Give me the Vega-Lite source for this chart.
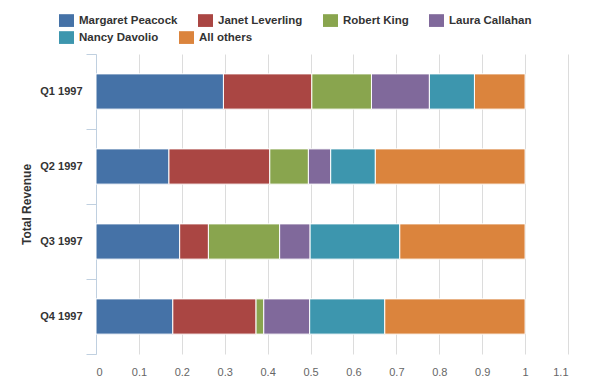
{
  "$schema": "https://vega.github.io/schema/vega-lite/v6.json",
  "width": 472,
  "height": 300,
  "autosize": {"type": "none"},
  "padding": {"left": 96, "top": 54, "right": 28, "bottom": 31},
  "background": "white",
  "data": {
    "values": [
      {"quarter": "Q1 1997", "employee": "Margaret Peacock", "ord": 1, "value": 0.297},
      {"quarter": "Q1 1997", "employee": "Janet Leverling", "ord": 2, "value": 0.206},
      {"quarter": "Q1 1997", "employee": "Robert King", "ord": 3, "value": 0.139},
      {"quarter": "Q1 1997", "employee": "Laura Callahan", "ord": 4, "value": 0.135},
      {"quarter": "Q1 1997", "employee": "Nancy Davolio", "ord": 5, "value": 0.105},
      {"quarter": "Q1 1997", "employee": "All others", "ord": 6, "value": 0.118},
      {"quarter": "Q2 1997", "employee": "Margaret Peacock", "ord": 1, "value": 0.170},
      {"quarter": "Q2 1997", "employee": "Janet Leverling", "ord": 2, "value": 0.235},
      {"quarter": "Q2 1997", "employee": "Robert King", "ord": 3, "value": 0.090},
      {"quarter": "Q2 1997", "employee": "Laura Callahan", "ord": 4, "value": 0.052},
      {"quarter": "Q2 1997", "employee": "Nancy Davolio", "ord": 5, "value": 0.104},
      {"quarter": "Q2 1997", "employee": "All others", "ord": 6, "value": 0.349},
      {"quarter": "Q3 1997", "employee": "Margaret Peacock", "ord": 1, "value": 0.195},
      {"quarter": "Q3 1997", "employee": "Janet Leverling", "ord": 2, "value": 0.067},
      {"quarter": "Q3 1997", "employee": "Robert King", "ord": 3, "value": 0.166},
      {"quarter": "Q3 1997", "employee": "Laura Callahan", "ord": 4, "value": 0.071},
      {"quarter": "Q3 1997", "employee": "Nancy Davolio", "ord": 5, "value": 0.209},
      {"quarter": "Q3 1997", "employee": "All others", "ord": 6, "value": 0.292},
      {"quarter": "Q4 1997", "employee": "Margaret Peacock", "ord": 1, "value": 0.179},
      {"quarter": "Q4 1997", "employee": "Janet Leverling", "ord": 2, "value": 0.194},
      {"quarter": "Q4 1997", "employee": "Robert King", "ord": 3, "value": 0.018},
      {"quarter": "Q4 1997", "employee": "Laura Callahan", "ord": 4, "value": 0.107},
      {"quarter": "Q4 1997", "employee": "Nancy Davolio", "ord": 5, "value": 0.175},
      {"quarter": "Q4 1997", "employee": "All others", "ord": 6, "value": 0.327}
    ]
  },
  "transform": [
    {"stack": "value", "groupby": ["quarter"], "sort": [{"field": "ord", "order": "ascending"}], "as": ["v0", "v1"]}
  ],
  "encoding": {
    "y": {
      "field": "quarter",
      "type": "nominal",
      "sort": ["Q1 1997", "Q2 1997", "Q3 1997", "Q4 1997"],
      "scale": {"paddingInner": 0, "paddingOuter": 0},
      "axis": {
        "title": "Total Revenue",
        "titleFont": "Liberation Sans",
        "titleFontSize": 12,
        "titleFontWeight": "bold",
        "titleColor": "#333333",
        "titlePadding": 6,
        "labelFont": "Liberation Sans",
        "labelFontSize": 11,
        "labelFontWeight": "bold",
        "labelColor": "#333333",
        "labelPadding": 4,
        "domainColor": "#C0D0E0",
        "tickColor": "#C0D0E0",
        "tickSize": 10,
        "tickBand": "extent",
        "grid": false
      }
    },
    "x": {
      "field": "v0",
      "type": "quantitative",
      "scale": {"domain": [0, 1.1], "nice": false},
      "axis": {
        "title": null,
        "values": [0, 0.1, 0.2, 0.3, 0.4, 0.5, 0.6, 0.7, 0.8, 0.9, 1, 1.1],
        "format": "~g",
        "grid": true,
        "gridColor": "#DCDCDC",
        "domain": false,
        "ticks": false,
        "labelPadding": 12,
        "labelFont": "Liberation Sans",
        "labelFontSize": 11,
        "labelColor": "#666666"
      }
    },
    "x2": {"field": "v1"}
  },
  "layer": [
    {
      "transform": [{"filter": {"field": "ord", "lte": 4}}],
      "mark": {"type": "bar", "stroke": "white", "strokeWidth": 1, "height": {"band": 0.47}},
      "encoding": {
        "color": {
          "field": "employee",
          "type": "nominal",
          "scale": {
            "domain": ["Margaret Peacock", "Janet Leverling", "Robert King", "Laura Callahan"],
            "range": ["#4572A7", "#AA4643", "#89A54E", "#80699B"]
          },
          "legend": {
            "title": null,
            "orient": "none",
            "legendX": -37,
            "legendY": -41,
            "direction": "horizontal",
            "columnPadding": 20,
            "symbolType": "M-1,-0.85H1V0.85H-1Z",
            "symbolSize": 225,
            "symbolStrokeWidth": 0,
            "symbolOpacity": 1,
            "labelOffset": 5,
            "labelFont": "Liberation Sans",
            "labelFontSize": 11.5,
            "labelFontWeight": "bold",
            "labelColor": "#333333"
          }
        }
      }
    },
    {
      "transform": [{"filter": {"field": "ord", "gt": 4}}],
      "mark": {"type": "bar", "stroke": "white", "strokeWidth": 1, "height": {"band": 0.47}},
      "encoding": {
        "color": {
          "field": "employee",
          "type": "nominal",
          "scale": {
            "domain": ["Nancy Davolio", "All others"],
            "range": ["#3D96AE", "#DB843D"]
          },
          "legend": {
            "title": null,
            "orient": "none",
            "legendX": -37,
            "legendY": -24,
            "direction": "horizontal",
            "columnPadding": 20,
            "symbolType": "M-1,-0.85H1V0.85H-1Z",
            "symbolSize": 225,
            "symbolStrokeWidth": 0,
            "symbolOpacity": 1,
            "labelOffset": 5,
            "labelFont": "Liberation Sans",
            "labelFontSize": 11.5,
            "labelFontWeight": "bold",
            "labelColor": "#333333"
          }
        }
      }
    }
  ],
  "resolve": {"scale": {"color": "independent"}, "legend": {"color": "independent"}},
  "config": {"view": {"stroke": null}}
}
